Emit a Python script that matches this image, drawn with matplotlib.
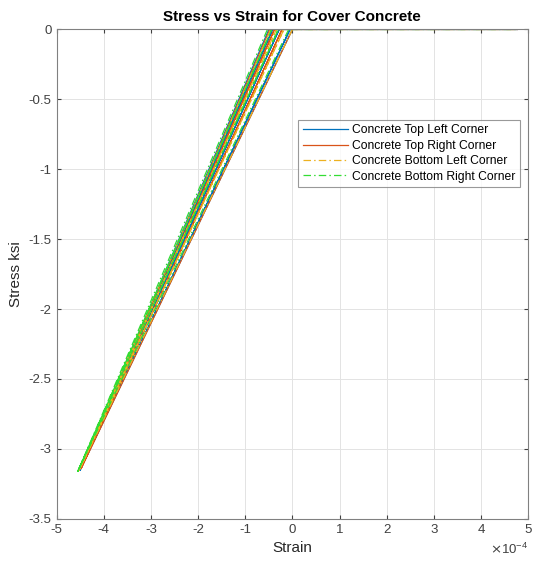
import numpy as np
import matplotlib.pyplot as plt
from matplotlib.ticker import FuncFormatter

plt.rcParams['font.family'] = ['Liberation Sans', 'DejaVu Sans']
plt.rcParams['axes.unicode_minus'] = False

# strain values are in units of 1e-4, stress in ksi
strain_tl = [0.0, -4.50, -0.05, -4.50, -0.28, -4.50, -0.42, -4.50, -0.50, 4.77]
stress_tl = [0.0, -3.15, 0.0, -3.15, 0.0, -3.15, 0.0, -3.15, 0.0, 0.0]

strain_tr = [0.0, -4.48, -0.22, -4.48, -0.38, -4.48, -0.48, 4.77]
stress_tr = [0.0, -3.14, 0.0, -3.14, 0.0, -3.14, 0.0, 0.0]

strain_bl = [0.0, -4.52, -0.18, -4.52, -0.34, -4.52, -0.46, 4.77]
stress_bl = [0.0, -3.15, 0.0, -3.15, 0.0, -3.15, 0.0, 0.0]

strain_br = [-0.08, -4.55, -0.30, -4.55, -0.44, -4.55, -0.53, 4.77]
stress_br = [0.0, -3.16, 0.0, -3.16, 0.0, -3.16, 0.0, 0.0]

labels = ['Concrete Top Left Corner', 'Concrete Top Right Corner',
          'Concrete Bottom Left Corner', 'Concrete Bottom Right Corner']

fig = plt.figure(figsize=(5.34, 5.67), dpi=100)
ax = fig.add_axes([0.106, 0.085, 0.883, 0.863])

dashdot = (0, (6, 2.5, 1.2, 2.5))
ax.plot(strain_tl, stress_tl, '-', color='#0072BD', lw=0.9, label=labels[0])
ax.plot(strain_tr, stress_tr, '-', color='#D95319', lw=0.9, label=labels[1])
ax.plot(strain_bl, stress_bl, linestyle=dashdot, color='#EDB120', lw=0.9, label=labels[2])
ax.plot(strain_br, stress_br, linestyle=dashdot, color='#33DD33', lw=0.9, label=labels[3])

ax.set_xlim(-5, 5)
ax.set_ylim(-3.5, 0)
ax.set_xticks(np.arange(-5, 6))
ax.set_yticks(np.arange(-3.5, 0.01, 0.5))
ax.xaxis.set_major_formatter(FuncFormatter(lambda v, p: '%g' % v))
ax.yaxis.set_major_formatter(FuncFormatter(lambda v, p: '%g' % v))
ax.text(1.0, -0.046, r'$\times\mathregular{10^{-4}}$', transform=ax.transAxes,
        ha='right', va='top', fontsize=9.5, color='#404040')

ax.grid(True, color='#e3e3e3', lw=0.7)
ax.set_axisbelow(True)
ax.tick_params(direction='in', top=True, right=True, labelsize=9.5,
               colors='#404040', length=3)
for s in ax.spines.values():
    s.set_color('#808080')

ax.set_title('Stress vs Strain for Cover Concrete', fontsize=11, fontweight='bold', pad=6)
ax.set_xlabel('Strain', fontsize=11, color='#262626')
ax.set_ylabel('Stress ksi', fontsize=11, color='#262626')

leg = ax.legend(loc='upper right', bbox_to_anchor=(0.983, 0.816), fontsize=8.7,
                frameon=True, fancybox=False, edgecolor='#808080',
                handlelength=3.7, borderpad=0.4, labelspacing=0.28, handletextpad=0.35,
                borderaxespad=0)
leg.get_frame().set_linewidth(0.8)

fig.savefig('out.png', dpi=100)
